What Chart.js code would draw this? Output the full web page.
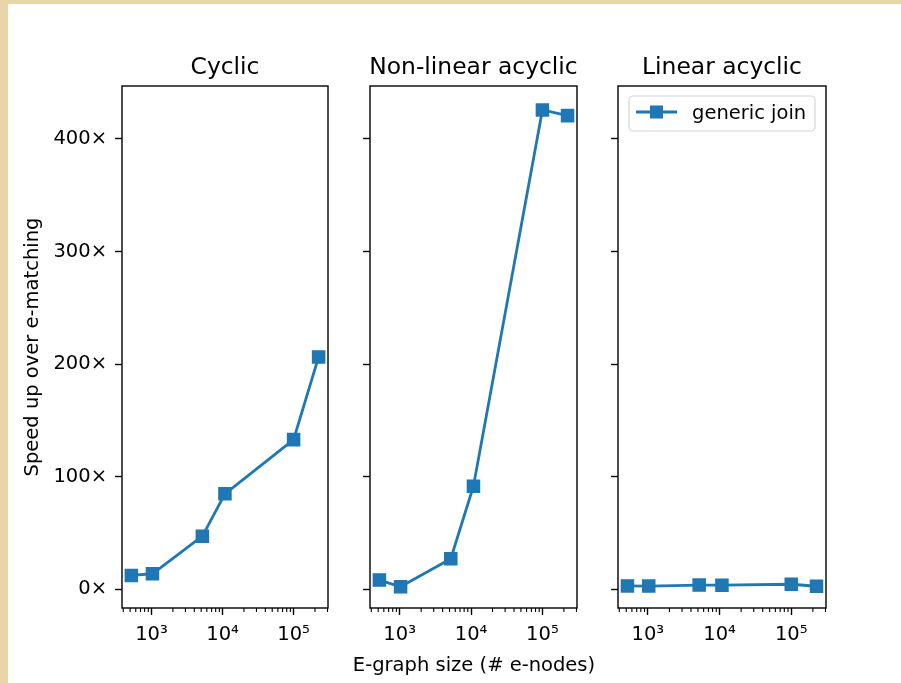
<!DOCTYPE html>
<html>
<head>
<meta charset="utf-8">
<script src="https://cdn.jsdelivr.net/npm/chart.js@4.4.1/dist/chart.umd.min.js"></script>
<style>
  html, body { margin: 0; padding: 0; background: #fff; }
  #page { position: relative; width: 901px; height: 683px; overflow: hidden; background: #fff; }
  .edge { position: absolute; background: #e9d5a7; }
  canvas { position: absolute; top: 0; }
</style>
</head>
<body>
<div id="page">
  <div class="edge" style="left:0;top:0;width:901px;height:4px"></div>
  <div class="edge" style="left:0;top:0;width:8px;height:683px"></div>
  <canvas id="cyclic" width="345" height="683" style="left:0px"></canvas>
  <canvas id="nonlinear" width="250" height="683" style="left:345px"></canvas>
  <canvas id="linear" width="306" height="683" style="left:595px"></canvas>
</div>
<script>
// e-graph sizes (# e-nodes), shared by the three panels
const sizes = [520, 1030, 5200, 10800, 100000, 225000];
// speed up over e-matching
const cyclic = [12.4, 13.9, 47.3, 84.9, 133, 206.4];
const nonLinear = [8.3, 2.4, 27.2, 91.6, 425.7, 420.7];
const linear = [3.1, 3.0, 3.9, 3.8, 4.6, 2.8];

const panelTitles = ['Cyclic', 'Non-linear acyclic', 'Linear acyclic'];
const xTickValues = [1e3, 1e4, 1e5];
const xTickLabels = ['10³', '10⁴', '10⁵'];
const yTickValues = [0, 100, 200, 300, 400];
const yTickLabels = ['0×', '100×', '200×', '300×', '400×'];
const seriesName = 'generic join';

const BLUE = '#1f77b4';
const FONT = 'DejaVu Sans';

Chart.defaults.font.family = FONT;
Chart.defaults.font.size = 19.5;
Chart.defaults.color = '#000';

// frame, minor log ticks, panel title and (optionally) the shared x label
const framePlugin = {
    id: 'frame',
    afterDraw(chart, args, opts) {
        const {ctx, chartArea: a} = chart;
        const x = chart.scales.x;
        ctx.save();
        ctx.strokeStyle = '#000';
        ctx.lineWidth = 1.1;
        ctx.beginPath();
        for (let d = 100; d <= 1e6; d *= 10) {
            for (let m = 2; m < 10; m++) {
                const v = d * m;
                if (v < x.min || v > x.max) continue;
                const px = x.getPixelForValue(v);
                ctx.moveTo(px, a.bottom);
                ctx.lineTo(px, a.bottom + 4);
            }
        }
        ctx.stroke();
        ctx.lineWidth = 1.4;
        ctx.strokeRect(a.left, a.top, a.right - a.left, a.bottom - a.top);
        ctx.fillStyle = '#000';
        ctx.textAlign = 'center';
        ctx.textBaseline = 'alphabetic';
        ctx.font = `23.4px "${FONT}"`;
        ctx.fillText(opts.text, (a.left + a.right) / 2, a.top - 12);
        if (opts.xTitle) {
            // drawn here so it can overhang the narrow axis without being squeezed
            ctx.font = `19.5px "${FONT}"`;
            ctx.fillText(opts.xTitle, (a.left + a.right) / 2 + 0.5, a.bottom + 62.5);
        }
        ctx.restore();
    }
};

// matplotlib-like legend box (line + square marker)
const boxLegend = {
    id: 'boxLegend',
    afterDraw(chart) {
        const {ctx, chartArea: a} = chart;
        const ds = chart.data.datasets[0];
        ctx.save();
        ctx.beginPath();
        ctx.roundRect(a.left + 11, a.top + 10, 186, 35, 4);
        ctx.fillStyle = 'rgba(255,255,255,0.8)';
        ctx.fill();
        ctx.strokeStyle = '#d6d6d6';
        ctx.lineWidth = 1.2;
        ctx.stroke();
        const ly = a.top + 26;
        ctx.strokeStyle = BLUE;
        ctx.lineWidth = ds.borderWidth;
        ctx.beginPath();
        ctx.moveTo(a.left + 18, ly);
        ctx.lineTo(a.left + 59, ly);
        ctx.stroke();
        ctx.fillStyle = BLUE;
        ctx.fillRect(a.left + 38.5 - 6.5, ly - 6.5, 13, 13);
        ctx.fillStyle = '#000';
        ctx.font = `19.5px "${FONT}"`;
        ctx.textAlign = 'left';
        ctx.textBaseline = 'alphabetic';
        ctx.fillText(ds.label, a.left + 74, a.top + 33);
        ctx.restore();
    }
};

function makePanel(id, values, title, opts) {
    const data = sizes.map((s, i) => ({x: s, y: values[i]}));
    return new Chart(document.getElementById(id), {
        type: 'line',
        data: {
            datasets: [{
                label: seriesName,
                data: data,
                borderColor: BLUE,
                backgroundColor: BLUE,
                borderWidth: 2.8,
                pointStyle: 'rect',
                pointRadius: 8.5,
                pointBorderWidth: 1.5,
                pointBackgroundColor: BLUE,
                pointBorderColor: BLUE,
                tension: 0,
                clip: false,
            }]
        },
        options: {
            responsive: false,
            devicePixelRatio: 1,
            animation: false,
            events: [],
            layout: {
                padding: {left: opts.padLeft, right: opts.padRight, top: 86, bottom: 9}
            },
            plugins: {
                legend: {display: false},
                tooltip: {enabled: false},
                frame: {text: title, xTitle: opts.xTitle},
            },
            scales: {
                x: {
                    type: 'logarithmic',
                    min: 384,
                    max: 305000,
                    border: {display: false},
                    grid: {drawOnChartArea: false, drawTicks: true, tickLength: 7,
                           tickColor: '#000', tickWidth: 1.4},
                    ticks: {
                        padding: 8, autoSkip: false, maxRotation: 0, minRotation: 0,
                        callback: (v) => xTickLabels[xTickValues.indexOf(v)] ?? '',
                    },
                    afterBuildTicks: (s) => { s.ticks = xTickValues.map(v => ({value: v})); },
                    afterFit: (s) => { s.height = 66; },
                },
                y: {
                    type: 'linear',
                    min: -16.5,
                    max: 447,
                    border: {display: false},
                    grid: {drawOnChartArea: false, drawTicks: true, tickLength: 7,
                           tickColor: '#000', tickWidth: 1.4},
                    ticks: {
                        display: opts.yLabels,
                        padding: 8,
                        callback: (v) => yTickLabels[yTickValues.indexOf(v)] ?? '',
                    },
                    afterBuildTicks: (s) => { s.ticks = yTickValues.map(v => ({value: v})); },
                    afterFit: (s) => { s.width = opts.yWidth; },
                    title: {
                        display: !!opts.yTitle,
                        text: opts.yTitle || '',
                        padding: {top: 1, bottom: 0},
                    },
                },
            },
        },
        plugins: opts.legend ? [framePlugin, boxLegend] : [framePlugin],
    });
}

makePanel('cyclic', cyclic, panelTitles[0], {
    padLeft: 20, padRight: 17, yWidth: 102, yLabels: true,
    yTitle: 'Speed up over e-matching',
});
makePanel('nonlinear', nonLinear, panelTitles[1], {
    padLeft: 13, padRight: 18, yWidth: 12, yLabels: false,
    xTitle: 'E-graph size (# e-nodes)',
});
makePanel('linear', linear, panelTitles[2], {
    padLeft: 11, padRight: 75, yWidth: 12, yLabels: false, legend: true,
});
</script>
</body>
</html>
